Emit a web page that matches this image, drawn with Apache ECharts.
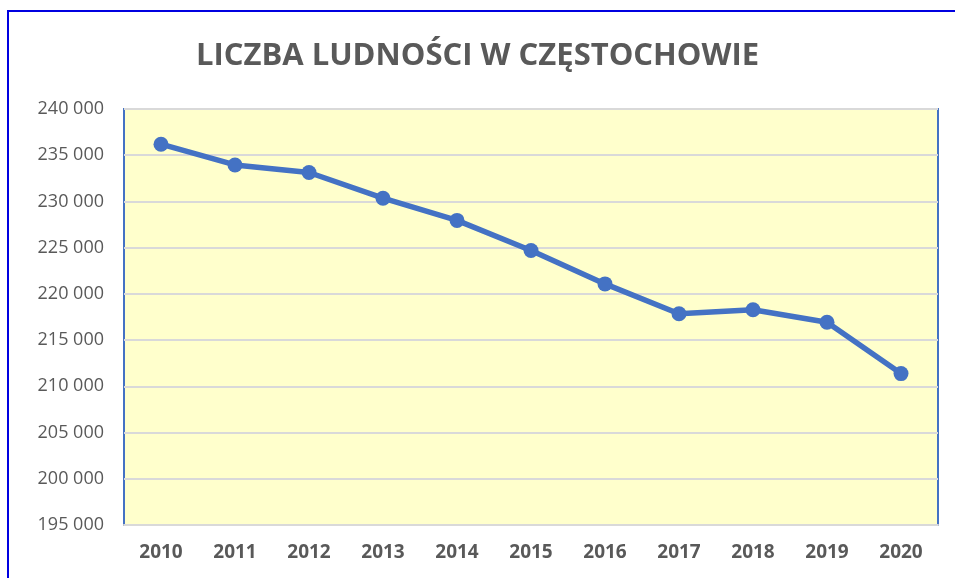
<!DOCTYPE html>
<html>
<head>
<meta charset="utf-8">
<script src="https://cdn.jsdelivr.net/npm/echarts@6/dist/echarts.min.js"></script>
<style>
html,body{margin:0;padding:0;background:#fff;}
#chart{width:955px;height:578px;}
</style>
</head>
<body>
<div id="chart"></div>
<script>
const titleText = 'LICZBA LUDNOŚCI W CZĘSTOCHOWIE';
const years = ['2010','2011','2012','2013','2014','2015','2016','2017','2018','2019','2020'];
const population = [236190, 233950, 233130, 230350, 227950, 224700, 221080, 217850, 218280, 216930, 211380];
const yMin = 195000, yMax = 240000, yStep = 5000;

const chart = echarts.init(document.getElementById('chart'), null, {renderer:'canvas'});
chart.setOption({
  animation:false,
  backgroundColor:'#ffffff',
  graphic:[{
    type:'rect', z:100, silent:true,
    shape:{x:8, y:11, width:1200, height:1200},
    style:{fill:'none', stroke:'#0000e0', lineWidth:2}
  }],
  title:{
    text:titleText, left:'center', top:36,
    textStyle:{fontFamily:'Open Sans', fontWeight:'bold', fontSize:31, color:'#595959'}
  },
  grid:{
    left:124, right:17, top:109, bottom:53,
    show:true, backgroundColor:'#FFFFCC', borderColor:'#4472C4', borderWidth:2
  },
  xAxis:{
    type:'category', data:years, boundaryGap:true,
    axisLine:{show:true, lineStyle:{color:'#D9D9D9', width:2}},
    axisTick:{show:false},
    axisLabel:{fontFamily:'Open Sans', fontWeight:'bold', fontSize:19, color:'#595959', margin:18}
  },
  yAxis:{
    type:'value', min:yMin, max:yMax, interval:yStep,
    axisLine:{show:false}, axisTick:{show:false},
    splitLine:{show:true, lineStyle:{color:'#D9D9D9', width:2}},
    axisLabel:{fontFamily:'Open Sans', fontSize:18, color:'#595959', margin:20,
      formatter:v=>String(v).replace(/\B(?=(\d{3})+(?!\d))/g,' ')}
  },
  series:[{
    type:'line', data:population,
    symbol:'circle', symbolSize:15,
    lineStyle:{color:'#4472C4', width:5.5},
    itemStyle:{color:'#4472C4'}
  }]
});
</script>
</body>
</html>
